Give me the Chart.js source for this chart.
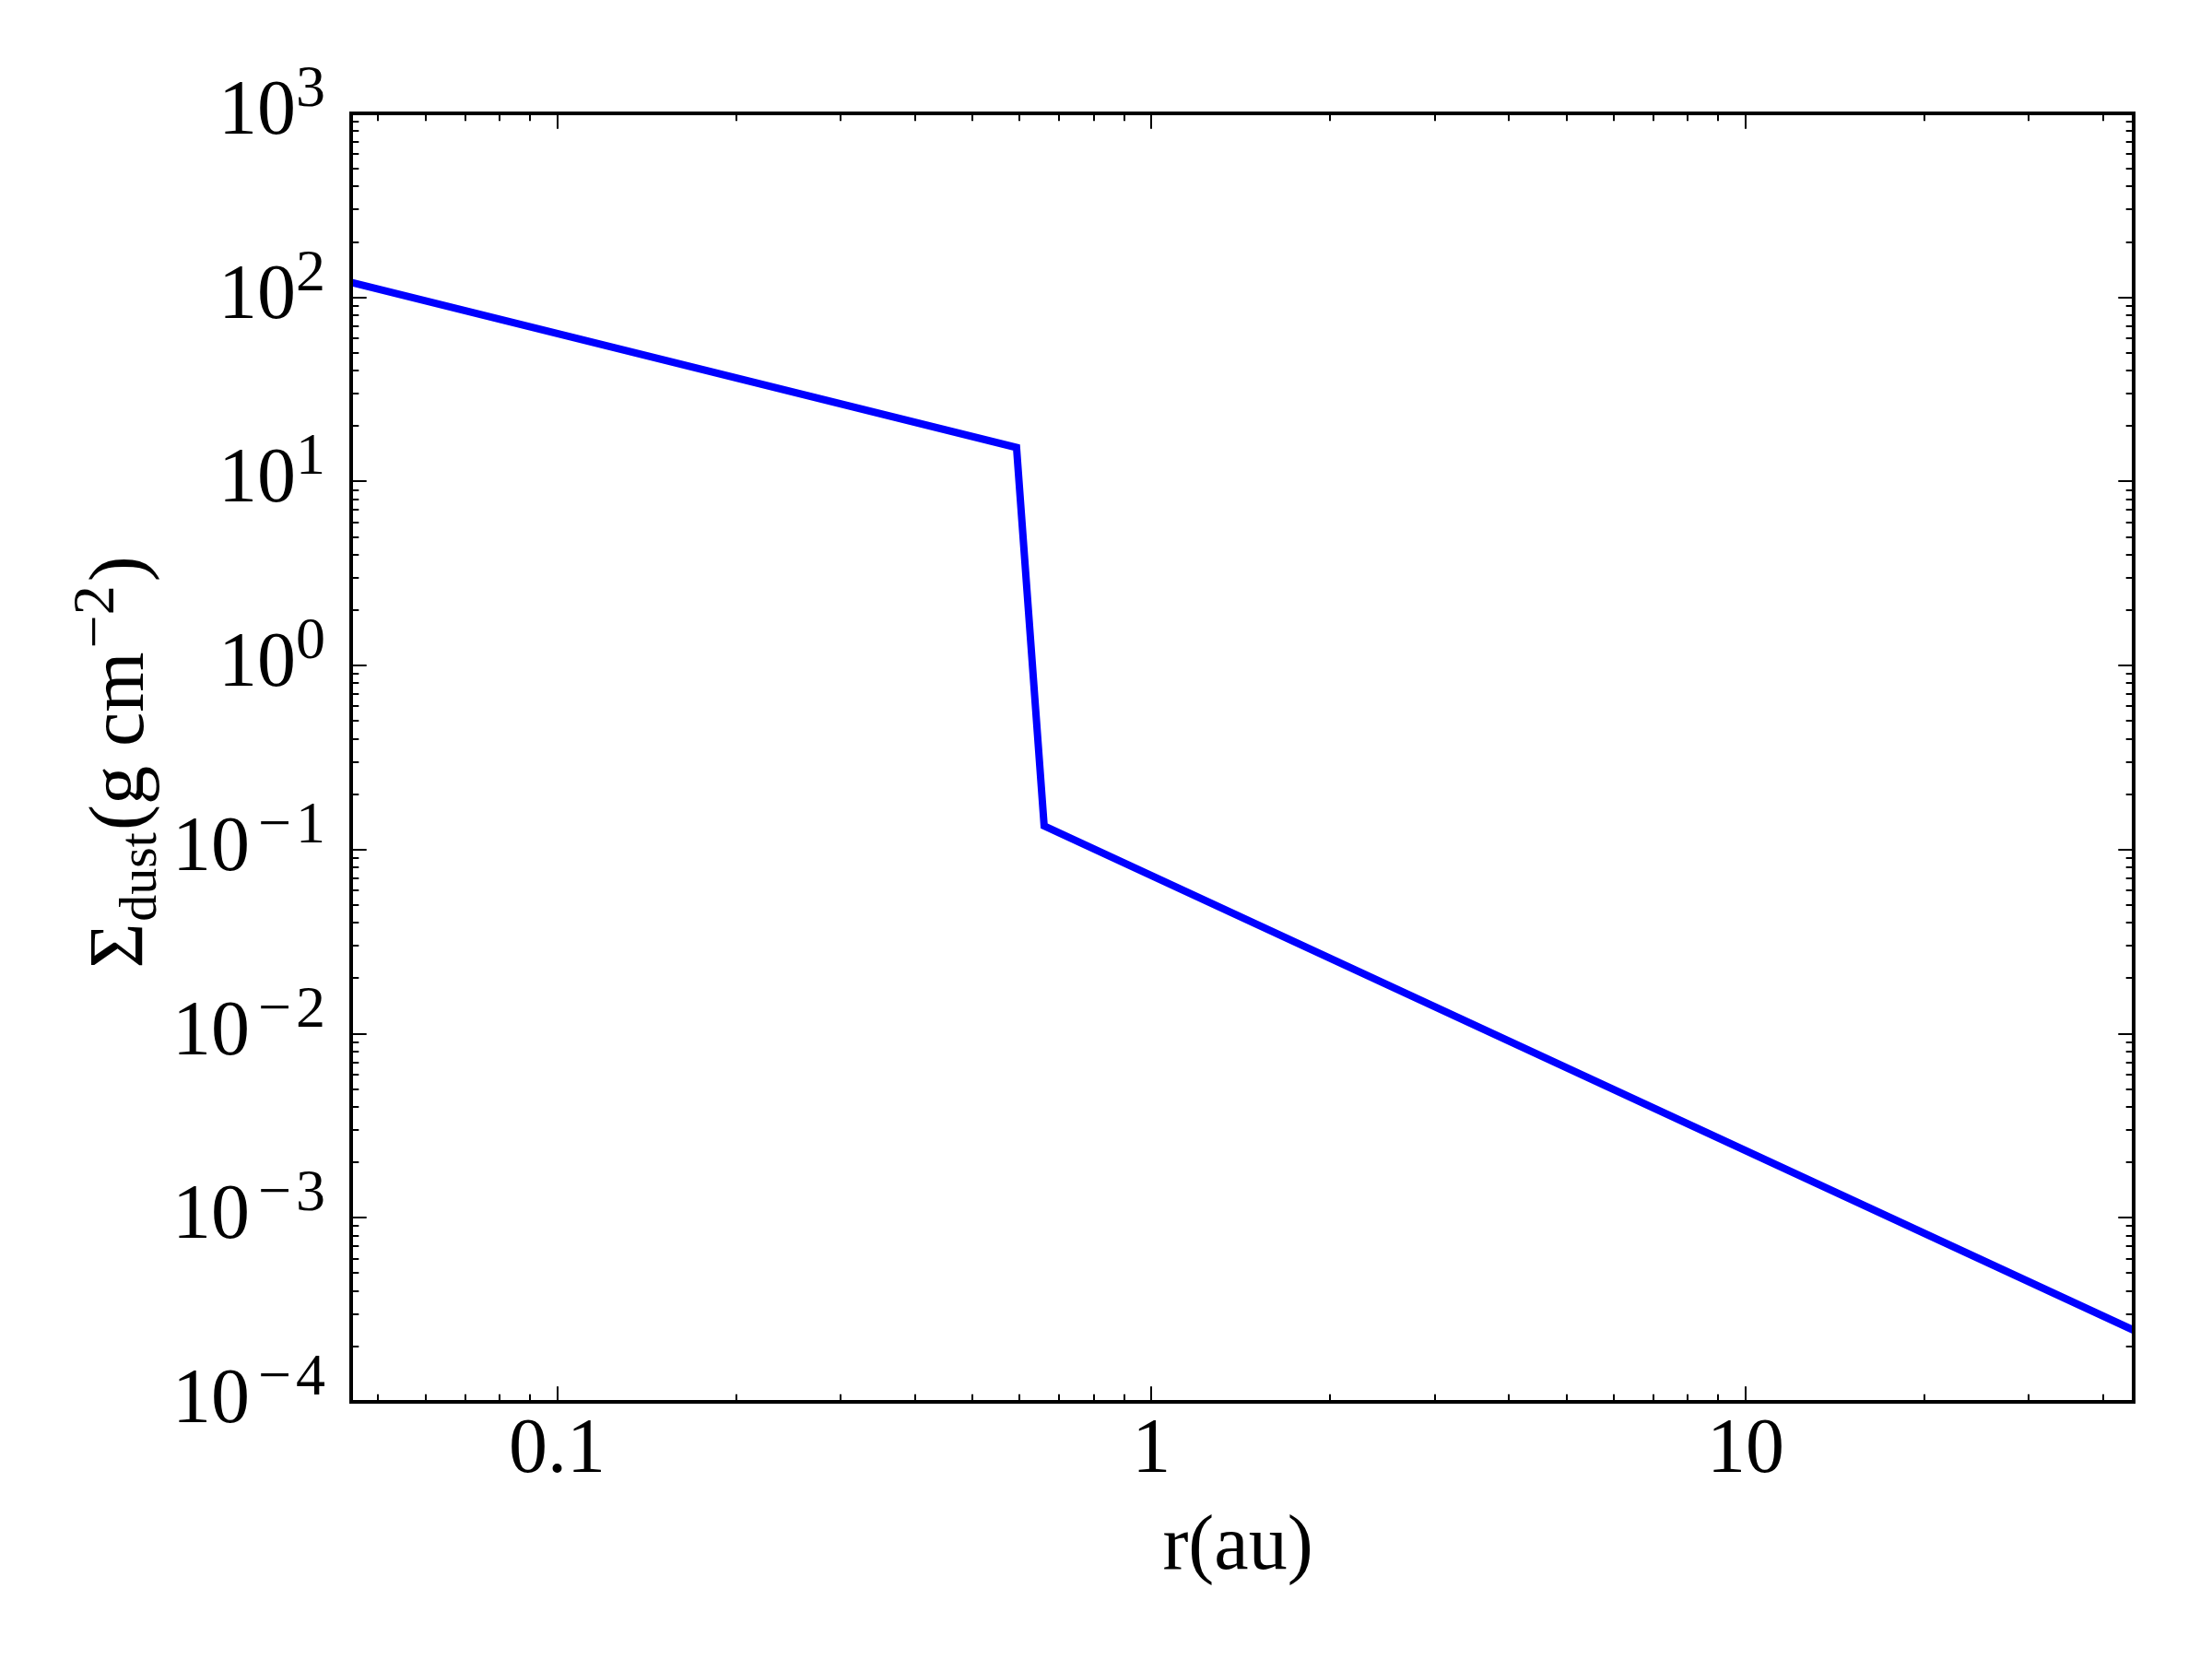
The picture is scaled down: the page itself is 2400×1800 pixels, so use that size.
<!DOCTYPE html>
<html><head><meta charset="utf-8">
<script src="https://cdn.jsdelivr.net/npm/chart.js@4.4.0/dist/chart.umd.min.js"></script>
<style>html,body{margin:0;padding:0;background:#fff}#wrap{width:2400px;height:1800px}</style>
</head><body><div id="wrap"><canvas id="c" width="2400" height="1800"></canvas></div>
<script>
// ---- data ----
const radiusAu  = [0.045, 0.593, 0.66, 45];
const sigmaDust = [120.6, 15.3, 0.1345, 2.45e-4];
const xRange = [0.045, 45];
const yRange = [1e-4, 1e3];
const xMajorTicks = [0.1, 1, 10];
const xTickLabels = ['0.1', '1', '10'];
const yMajorTicks = [1e-4, 1e-3, 1e-2, 1e-1, 1e0, 1e1, 1e2, 1e3];
const yTickExponents = ['\u22124', '\u22123', '\u22122', '\u22121', '0', '1', '2', '3'];
const xTitle = 'r(au)';

const FONT = '"Liberation Serif", "DejaVu Serif", serif';
const MAIN = 84, SUP = 64;

function minorTicks(min, max) {
  const out = [];
  for (let e = Math.floor(Math.log10(min)) - 1; e <= Math.ceil(Math.log10(max)); e++) {
    for (let k = 1; k <= 9; k++) {
      const v = k * Math.pow(10, e);
      if (v >= min * 0.9999 && v <= max * 1.0001) out.push({v, major: k === 1});
    }
  }
  return out;
}

const framePlugin = {
  id: 'frame',
  afterDraw(chart) {
    const ctx = chart.ctx, a = chart.chartArea;
    const xs = chart.scales.x, ys = chart.scales.y;
    ctx.save();
    ctx.strokeStyle = '#000';
    ctx.lineWidth = 2;
    ctx.beginPath();
    for (const t of minorTicks(xRange[0], xRange[1])) {
      const px = Math.round(xs.getPixelForValue(t.v));
      const L = t.major ? 16.7 : 8.3;
      ctx.moveTo(px, a.bottom); ctx.lineTo(px, a.bottom - L);
      ctx.moveTo(px, a.top); ctx.lineTo(px, a.top + L);
    }
    for (const t of minorTicks(yRange[0], yRange[1])) {
      const py = Math.round(ys.getPixelForValue(t.v));
      const L = t.major ? 16.7 : 8.3;
      ctx.moveTo(a.left, py); ctx.lineTo(a.left + L, py);
      ctx.moveTo(a.right, py); ctx.lineTo(a.right - L, py);
    }
    ctx.stroke();
    ctx.lineWidth = 4;
    ctx.strokeRect(a.left, a.top, a.right - a.left, a.bottom - a.top);

    ctx.fillStyle = '#000';
    ctx.font = MAIN + 'px ' + FONT;
    ctx.textAlign = 'center';
    ctx.textBaseline = 'alphabetic';
    xMajorTicks.forEach((v, i) => {
      ctx.fillText(xTickLabels[i], xs.getPixelForValue(v), a.bottom + 76);
    });
    ctx.textAlign = 'left';
    yMajorTicks.forEach((v, i) => {
      const py = ys.getPixelForValue(v);
      const ex = yTickExponents[i];
      const neg = ex.charAt(0) === '\u2212';
      ctx.font = MAIN + 'px ' + FONT;
      const w1 = ctx.measureText('10').width;
      ctx.font = SUP + 'px ' + FONT;
      let w2, wm = 0, wd;
      const pre = 9, post = 5;
      if (neg) {
        wm = ctx.measureText('\u2212').width + post;
        wd = ctx.measureText(ex.slice(1)).width;
        w2 = pre + wm + wd;
      } else {
        w2 = ctx.measureText(ex).width;
      }
      const x0 = a.left - 28 - w1 - w2;
      ctx.font = MAIN + 'px ' + FONT;
      ctx.fillText('10', x0, py + 22);
      ctx.font = SUP + 'px ' + FONT;
      if (neg) {
        ctx.fillText('\u2212', x0 + w1 + pre, py - 8);
        ctx.fillText(ex.slice(1), x0 + w1 + pre + wm, py - 8);
      } else {
        ctx.fillText(ex, x0 + w1, py - 8);
      }
    });
    ctx.font = MAIN + 'px ' + FONT;
    ctx.textAlign = 'center';
    ctx.fillText(xTitle, (a.left + a.right) / 2 - 5, a.bottom + 181);
    const parts = [
      {t: '\u03A3', s: MAIN, dy: 0, gap: 0},
      {t: 'dust', s: 58, dy: 14, gap: 2},
      {t: '(g cm', s: MAIN, dy: 0, gap: 2},
      {t: '\u22122', s: SUP, dy: -32, gap: 4},
      {t: ')', s: MAIN, dy: 0, gap: 4}
    ];
    let total = 0;
    for (const p of parts) { ctx.font = p.s + 'px ' + FONT; p.w = ctx.measureText(p.t).width; total += p.w + p.gap; }
    ctx.translate(155, (a.top + a.bottom) / 2 + 5 + total / 2);
    ctx.rotate(-Math.PI / 2);
    ctx.textAlign = 'left';
    let x = 0;
    for (const p of parts) { x += p.gap; ctx.font = p.s + 'px ' + FONT; ctx.fillText(p.t, x, p.dy); x += p.w; }
    ctx.restore();
  }
};

new Chart(document.getElementById('c'), {
  type: 'line',
  data: {
    datasets: [{
      data: radiusAu.map((r, i) => ({x: r, y: sigmaDust[i]})),
      borderColor: '#0000ff',
      borderWidth: 8,
      pointRadius: 0,
      fill: false,
      tension: 0,
      clip: 0
    }]
  },
  options: {
    responsive: false,
    animation: false,
    devicePixelRatio: 1,
    layout: {padding: {left: 381, top: 123, right: 85, bottom: 279}},
    plugins: {legend: {display: false}, tooltip: {enabled: false}},
    scales: {
      x: {
        type: 'logarithmic', min: xRange[0], max: xRange[1],
        ticks: {display: false}, grid: {display: false, drawTicks: false, tickLength: 0},
        border: {display: false}, title: {display: false},
        afterFit: s => { s.height = 0; }
      },
      y: {
        type: 'logarithmic', min: yRange[0], max: yRange[1],
        ticks: {display: false}, grid: {display: false, drawTicks: false, tickLength: 0},
        border: {display: false}, title: {display: false},
        afterFit: s => { s.width = 0; }
      }
    }
  },
  plugins: [framePlugin]
});
</script></body></html>
